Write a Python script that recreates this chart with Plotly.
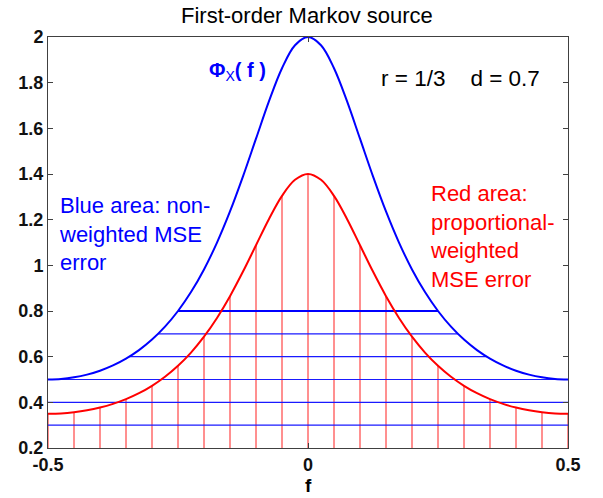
import plotly.graph_objects as go

# Frequency grid
f_vals = [-0.5, -0.475, -0.45, -0.425, -0.4, -0.375, -0.35, -0.325, -0.3, -0.275,
          -0.25, -0.225, -0.2, -0.175, -0.15, -0.125, -0.1, -0.075, -0.05, -0.025,
          0.0, 0.025, 0.05, 0.075, 0.1, 0.125, 0.15, 0.175, 0.2, 0.225, 0.25,
          0.275, 0.3, 0.325, 0.35, 0.375, 0.4, 0.425, 0.45, 0.475, 0.5]

# Blue curve: Phi_X(f)
phi_vals = [0.5, 0.5023, 0.5094, 0.5213, 0.5386, 0.5617, 0.5914, 0.6287, 0.6749, 0.7314,
            0.8, 0.8829, 0.9821, 1.0995, 1.2358, 1.3895, 1.5546, 1.7189, 1.8632, 1.9637,
            2.0, 1.9637, 1.8632, 1.7189, 1.5546, 1.3895, 1.2358, 1.0995, 0.9821, 0.8829, 0.8,
            0.7314, 0.6749, 0.6287, 0.5914, 0.5617, 0.5386, 0.5213, 0.5094, 0.5023, 0.5]

# Red curve: proportional-weighted distortion
red_vals = [0.35, 0.3516, 0.3566, 0.3649, 0.3770, 0.3932, 0.4140, 0.4401, 0.4724, 0.5120,
            0.56, 0.6180, 0.6875, 0.7697, 0.8651, 0.9727, 1.0882, 1.2032, 1.3042, 1.3746,
            1.4, 1.3746, 1.3042, 1.2032, 1.0882, 0.9727, 0.8651, 0.7697, 0.6875, 0.6180, 0.56,
            0.5120, 0.4724, 0.4401, 0.4140, 0.3932, 0.3770, 0.3649, 0.3566, 0.3516, 0.35]

# Blue hatch: horizontal levels and half-widths
hatch_levels = [0.3, 0.4, 0.5, 0.6, 0.7, 0.8]
hatch_halfwidth = [0.5, 0.5, 0.5, 0.344, 0.288, 0.25]

# Red hatch: vertical line positions and tops
vhatch_f = [-0.5, -0.45, -0.4, -0.35, -0.3, -0.25, -0.2, -0.15, -0.1, -0.05, 0.0,
            0.05, 0.1, 0.15, 0.2, 0.25, 0.3, 0.35, 0.4, 0.45, 0.5]
vhatch_top = [0.35, 0.3566, 0.3770, 0.4140, 0.4724, 0.56, 0.6875, 0.8651, 1.0882, 1.3042, 1.4,
              1.3042, 1.0882, 0.8651, 0.6875, 0.56, 0.4724, 0.4140, 0.3770, 0.3566, 0.35]

y_floor = 0.2
font_family = "Liberation Sans, Arial, sans-serif"

fig = go.Figure()

# vertical red hatch
vx, vy = [], []
for fx, top in zip(vhatch_f, vhatch_top):
    vx += [fx, fx, None]
    vy += [y_floor, top, None]
fig.add_trace(go.Scatter(x=vx, y=vy, mode="lines",
                         line=dict(color="#ff2020", width=1), hoverinfo="skip"))

# horizontal blue hatch
hx, hy = [], []
for lvl, hw in zip(hatch_levels, hatch_halfwidth):
    hx += [-hw, hw, None]
    hy += [lvl, lvl, None]
fig.add_trace(go.Scatter(x=hx, y=hy, mode="lines",
                         line=dict(color="#1a1aff", width=1.2), hoverinfo="skip"))
# thicker top level line
fig.add_trace(go.Scatter(x=[-hatch_halfwidth[-1], hatch_halfwidth[-1]],
                         y=[hatch_levels[-1], hatch_levels[-1]], mode="lines",
                         line=dict(color="#0000ff", width=2), hoverinfo="skip"))

fig.add_trace(go.Scatter(x=f_vals, y=red_vals, mode="lines", line_shape="spline",
                         line=dict(color="#ff0000", width=2)))
fig.add_trace(go.Scatter(x=f_vals, y=phi_vals, mode="lines", line_shape="spline",
                         line=dict(color="#0000ff", width=2)))

fig.update_layout(
    width=603, height=498,
    margin=dict(l=48, r=35, t=37, b=50, autoexpand=False),
    paper_bgcolor="white", plot_bgcolor="white",
    showlegend=False,
    hovermode=False,
    font=dict(family=font_family, color="black"),
    title=dict(text="First-order Markov source", x=0.509, xanchor="center",
               y=1 - 15 / 498, yanchor="middle", font=dict(size=22, color="black")),
)
axis_common = dict(showgrid=False, zeroline=False, showline=True, linecolor="#404040",
                   linewidth=1, mirror="ticks", ticks="inside", ticklen=5,
                   tickcolor="#404040", automargin=False,
                   tickfont=dict(size=18, color="#111111", weight="bold"))
fig.update_xaxes(range=[-0.5, 0.5], tickvals=[-0.5, 0, 0.5],
                 ticktext=["-0.5", "0", "0.5"], **axis_common)
fig.update_yaxes(range=[0.2, 2.0], tickvals=[0.2, 0.4, 0.6, 0.8, 1.0, 1.2, 1.4, 1.6, 1.8, 2.0],
                 ticktext=["0.2", "0.4", "0.6", "0.8", "1", "1.2", "1.4", "1.6", "1.8", "2"],
                 **axis_common)

fig.add_annotation(x=0.5, y=-0.092, xref="paper", yref="paper", text="<b>f</b>",
                   showarrow=False, font=dict(size=19, color="black"),
                   xanchor="center", yanchor="middle")
fig.add_annotation(x=-0.136, y=1.85, text="<b>Φ</b><sub>X</sub><b>( f )</b>", showarrow=False,
                   font=dict(size=20, color="#0000ff"), xanchor="center", yanchor="middle")
fig.add_annotation(x=0.137, y=1.82, text="r = 1/3    d = 0.7", showarrow=False,
                   font=dict(size=22.5, color="black"), xanchor="left", yanchor="middle")
fig.add_annotation(x=-0.482, y=1.137, text="Blue area: non-<br>weighted MSE<br>error",
                   showarrow=False, align="left", font=dict(size=22, color="#0000ff"),
                   xanchor="left", yanchor="middle")
fig.add_annotation(x=0.23, y=1.125, text="Red area:<br>proportional-<br>weighted<br>MSE error",
                   showarrow=False, align="left", font=dict(size=22, color="#ff0000"),
                   xanchor="left", yanchor="middle")

fig.write_html("out.html", config={"displayModeBar": False, "staticPlot": True},
               post_script="document.body.style.margin='0px';document.body.style.padding='0px';")
